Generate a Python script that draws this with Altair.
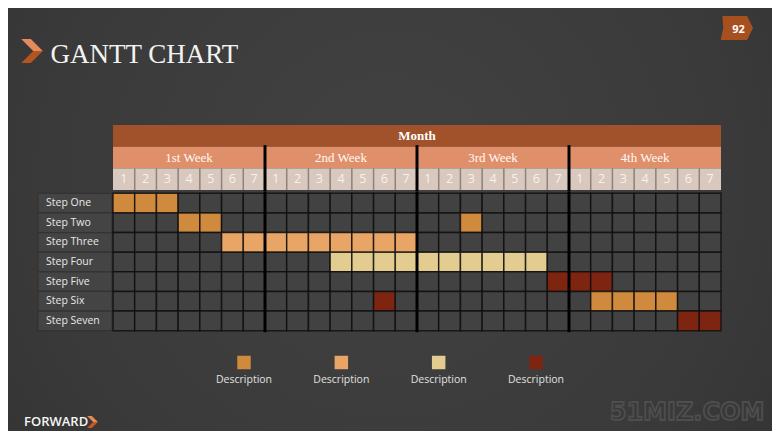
import altair as alt
import pandas as pd

# ---------------- data ----------------
steps = ["Step One", "Step Two", "Step Three", "Step Four",
         "Step Five", "Step Six", "Step Seven"]
weeks = ["1st Week", "2nd Week", "3rd Week", "4th Week"]
day_numbers = [1, 2, 3, 4, 5, 6, 7]
month_label = "Month"

# task spans, day index 1..28 across the month
task_step = ["Step One", "Step Two", "Step Two", "Step Three", "Step Four",
             "Step Five", "Step Six", "Step Six", "Step Seven"]
task_first_day = [1, 4, 17, 6, 11, 21, 13, 23, 27]
task_last_day = [3, 5, 17, 14, 20, 23, 13, 26, 28]
task_kind = ["A", "A", "A", "B", "C", "D", "D", "A", "D"]

kinds = ["none", "A", "B", "C", "D"]
kind_colors = ["#424242", "#D08A3E", "#E8A566", "#E2CC8F", "#7E2512"]
legend_kinds = ["A", "B", "C", "D"]
legend_labels = ["Description", "Description", "Description", "Description"]

title_text = "GANTT CHART"
page_number = "92"
footer_text = "FORWARD"
watermark_text = "51MIZ.COM"

# ---------------- tables ----------------
n_days = len(weeks) * len(day_numbers)
cells = []
for r, s in enumerate(steps):
    for d in range(1, n_days + 1):
        k = "none"
        for ts, a, b, kk in zip(task_step, task_first_day, task_last_day, task_kind):
            if ts == s and a <= d <= b:
                k = kk
        cells.append({"step": s, "x0": d - 1, "x1": d, "r0": r, "r1": r + 1, "kind": k})
cells = pd.DataFrame(cells)

labels = pd.DataFrame([{"step": s, "r0": r, "r1": r + 1, "rc": r + 0.5}
                       for r, s in enumerate(steps)])

wk = len(day_numbers)
week_bounds = pd.DataFrame([{"b": wk * i, "r0": 0, "r1": len(steps), "h0": 1, "h1": 3}
                            for i in range(1, len(weeks))])
month_df = pd.DataFrame([{"label": month_label, "x0": 0, "x1": n_days,
                          "xc": n_days / 2, "r0": 0, "r1": 1, "rc": 0.5}])
week_df = pd.DataFrame([{"label": w, "x0": i * wk, "x1": (i + 1) * wk,
                         "xc": i * wk + wk / 2, "r0": 1, "r1": 2, "rc": 1.5}
                        for i, w in enumerate(weeks)])
day_df = pd.DataFrame([{"label": str(n), "x0": i * wk + n - 1, "x1": i * wk + n,
                        "xc": i * wk + n - 0.5, "r0": 2, "r1": 3, "rc": 2.5}
                       for i in range(len(weeks)) for n in day_numbers])
day_sep = pd.DataFrame([{"b": b, "r0": 2, "r1": 3} for b in range(1, n_days)])
legend_df = pd.DataFrame({"idx": list(range(len(legend_kinds))),
                          "kind": legend_kinds, "label": legend_labels})

# ---------------- scales ----------------
XS = alt.Scale(domain=[0, n_days], range=[105, 713], nice=False, zero=False)
GY = alt.Scale(domain=[0, len(steps)], range=[185.3, 322.7], nice=False, zero=False)
HY = alt.Scale(domain=[0, 3], range=[117, 182], nice=False, zero=False)
CS = alt.Scale(domain=kinds, range=kind_colors)
LX = alt.Scale(type="point", domain=list(range(len(legend_kinds))), range=[236, 528], padding=0)

def X(f):
    return alt.X(f, type="quantitative", scale=XS, axis=None)

def GYe(f):
    return alt.Y(f, type="quantitative", scale=GY, axis=None)

def HYe(f):
    return alt.Y(f, type="quantitative", scale=HY, axis=None)

serif = "Liberation Serif"
sans = "Open Sans"
one = pd.DataFrame({"t": [title_text]})

# ---------------- background ----------------
bg = alt.Chart(one).mark_rect(
    fill=alt.Gradient(gradient="radial", x1=0.5, y1=0.45, r1=0.0, x2=0.5, y2=0.45, r2=0.75,
                      stops=[alt.GradientStop(color="#424242", offset=0),
                             alt.GradientStop(color="#3A3A3A", offset=0.6),
                             alt.GradientStop(color="#303030", offset=1)])
).encode(x=alt.value(0), x2=alt.value(764), y=alt.value(0), y2=alt.value(423))

# ---------------- grid ----------------
label_box = alt.Chart(labels).mark_rect(fill="#444444", stroke="#333333", strokeWidth=1.2).encode(
    x=alt.value(30), x2=alt.value(104), y=GYe("r0"), y2="r1")
label_txt = alt.Chart(labels).mark_text(align="left", baseline="middle", font=sans,
                                        fontSize=10.5, color="#E8E8E8").encode(
    x=alt.value(38), y=GYe("rc"), text="step:N")
cell_rect = alt.Chart(cells).mark_rect(stroke="#0E0E0E", strokeWidth=1.5, strokeOpacity=0.8).encode(
    x=X("x0"), x2="x1", y=GYe("r0"), y2="r1",
    fill=alt.Fill("kind:N", scale=CS, legend=None))
grid_rule = alt.Chart(week_bounds).mark_rule(color="#000000", strokeWidth=3, strokeCap="square").encode(
    x=X("b"), y=GYe("r0"), y2="r1")

# ---------------- header ----------------
month_rect = alt.Chart(month_df).mark_rect(fill="#A1522A").encode(
    x=X("x0"), x2="x1", y=HYe("r0"), y2="r1")
month_txt = alt.Chart(month_df).mark_text(font=serif, fontSize=13, fontWeight="bold",
                                          color="#FFFFFF", baseline="middle").encode(
    x=X("xc"), y=HYe("rc"), text="label:N")
week_rect = alt.Chart(week_df).mark_rect(fill="#DF8F6A").encode(
    x=X("x0"), x2="x1", y=HYe("r0"), y2="r1")
week_txt = alt.Chart(week_df).mark_text(font=serif, fontSize=13, color="#FFF8F2",
                                        baseline="middle").encode(
    x=X("xc"), y=HYe("rc"), text="label:N")
day_rect = alt.Chart(day_df).mark_rect(fill="#D9C8BD").encode(
    x=X("x0"), x2="x1", y=HYe("r0"), y2="r1")
day_rule = alt.Chart(day_sep).mark_rule(color="#8C837E", strokeWidth=1.5).encode(
    x=X("b"), y=HYe("r0"), y2="r1")
day_txt = alt.Chart(day_df).mark_text(font=sans, fontSize=12.5, color="#F7F2EE",
                                      baseline="middle").encode(
    x=X("xc"), y=HYe("rc"), text="label:N")
head_rule = alt.Chart(week_bounds).mark_rule(color="#000000", strokeWidth=3, strokeCap="square").encode(
    x=X("b"), y=HYe("h0"), y2="h1")

# ---------------- legend ----------------
leg_sq = alt.Chart(legend_df).mark_square(size=182, opacity=1).encode(
    x=alt.X("idx:O", scale=LX, axis=None), y=alt.value(354.5),
    fill=alt.Fill("kind:N", scale=CS, legend=None))
leg_txt = alt.Chart(legend_df).mark_text(font=sans, fontSize=10.5, color="#E0E0E0",
                                         baseline="middle").encode(
    x=alt.X("idx:O", scale=LX, axis=None), y=alt.value(372), text="label:N")

# ---------------- decorations ----------------
chev_top = "M -0.9 -1 L -0.1 -1 L 0.9 0 L 0.1 0 Z"
chev_bot = "M 0.1 0 L 0.9 0 L -0.1 1 L -0.9 1 Z"
title_chev1 = alt.Chart(one).mark_point(shape=chev_top, size=576, filled=True, opacity=1,
                                        color="#E38B5E").encode(x=alt.value(24), y=alt.value(43))
title_chev2 = alt.Chart(one).mark_point(shape=chev_bot, size=576, filled=True, opacity=1,
                                        color="#B4541F").encode(x=alt.value(24), y=alt.value(43))
title = alt.Chart(one).mark_text(font=serif, fontSize=27,
                                 color="#F2F2F2", align="left", baseline="alphabetic").encode(
    x=alt.value(42.5), y=alt.value(55), text=alt.value(title_text))
badge = alt.Chart(one).mark_point(
    shape="M -0.8 -0.7 L 0.65 -0.7 L 1 0 L 0.65 0.7 L -0.9 0.7 L -0.75 0 Z",
    size=1156, filled=True, opacity=1, color="#A6501F").encode(x=alt.value(728), y=alt.value(20))
badge_txt = alt.Chart(one).mark_text(font=sans, fontSize=11, fontWeight="bold", color="#FFFFFF",
                                     baseline="middle").encode(
    x=alt.value(730.5), y=alt.value(22), text=alt.value(page_number))
footer = alt.Chart(one).mark_text(font=sans, fontSize=13, fontWeight=600, color="#F5F5F5",
                                  align="left", baseline="middle").encode(
    x=alt.value(16), y=alt.value(414), text=alt.value(footer_text))
f_chev1 = alt.Chart(one).mark_point(shape=chev_top, size=144, filled=True, opacity=1,
                                    color="#E88A55").encode(x=alt.value(84.5), y=alt.value(414))
f_chev2 = alt.Chart(one).mark_point(shape=chev_bot, size=144, filled=True, opacity=1,
                                    color="#C25A22").encode(x=alt.value(84.5), y=alt.value(414))
watermark = alt.Chart(one).mark_text(font="DejaVu Sans", fontSize=24, fontWeight="bold",
                                     color="#383838", stroke="#4E4E4E", strokeWidth=1.8,
                                     align="center", baseline="alphabetic").encode(
    x=alt.value(679), y=alt.value(412), text=alt.value(watermark_text))

chart = alt.layer(
    bg,
    label_box, label_txt, cell_rect, grid_rule,
    month_rect, week_rect, day_rect, day_rule, head_rule, month_txt, week_txt, day_txt,
    leg_sq, leg_txt,
    title_chev1, title_chev2, title, badge, badge_txt, footer, f_chev1, f_chev2, watermark,
).resolve_scale(x="independent", y="independent").properties(
    width=764, height=423, padding=0, autosize=alt.AutoSizeParams(type="none"),
    background="#363636",
).configure_view(stroke=None)

chart.save("out.html", embed_options={"renderer": "svg", "actions": False})
